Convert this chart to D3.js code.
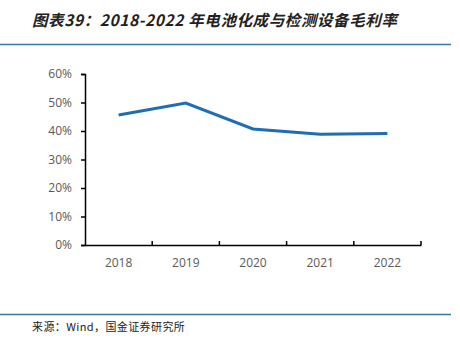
<!DOCTYPE html>
<html>
<head>
<meta charset="utf-8">
<script src="https://cdn.jsdelivr.net/npm/d3@7"></script>
<style>
  body { margin: 0; background: #fff; }
  svg { display: block; }
</style>
</head>
<body>
<div id="chart"></div>
<script>
// data
const years = ["2018", "2019", "2020", "2021", "2022"];
const grossMargin = [0.456, 0.498, 0.407, 0.389, 0.391];
const yTicks = [0, 0.1, 0.2, 0.3, 0.4, 0.5, 0.6];

const svgWidth = 460;
const svgHeight = 349;
const margin = { top: 74, bottom: 104, left: 85, right: 39 };

const svg = d3.select("#chart")
  .append("svg")
  .attr("width", svgWidth)
  .attr("height", svgHeight);

// title
svg.append("text")
  .attr("x", 32)
  .attr("y", 26)
  .style("font-family", "'Noto Sans CJK SC', sans-serif")
  .style("font-size", "15.5px")
  .style("font-weight", "bold")
  .style("font-style", "italic")
  .style("letter-spacing", "0.6px")
  .style("fill", "#222")
  .text("图表39：2018-2022 年电池化成与检测设备毛利率");

// rules above and below the chart
svg.append("line")
  .attr("x1", 0).attr("x2", 451)
  .attr("y1", 44.5).attr("y2", 44.5)
  .attr("stroke", "#3b7a9a").attr("stroke-width", 1.5);
svg.append("line")
  .attr("x1", 0).attr("x2", 451)
  .attr("y1", 314.5).attr("y2", 314.5)
  .attr("stroke", "#3b7a9a").attr("stroke-width", 1.5);

// source note
svg.append("text")
  .attr("x", 32)
  .attr("y", 331)
  .style("font-family", "'Noto Sans CJK SC', sans-serif")
  .style("font-size", "11px")
  .style("letter-spacing", "0.4px")
  .style("fill", "#222")
  .text("来源：Wind，国金证券研究所");

// scales
const XScale = d3.scaleBand(years, [margin.left, svgWidth - margin.right]);
const YScale = d3.scaleLinear([0, 0.6], [svgHeight - margin.bottom, margin.top]);

// y axis
const yAxis = svg.append("g")
  .attr("transform", `translate(${margin.left},0)`)
  .call(d3.axisLeft(YScale).tickValues(yTicks).tickFormat(d3.format(".0%")).tickSize(4).tickSizeOuter(4).tickPadding(9));
yAxis.select(".domain").attr("stroke", "#000").attr("stroke-width", 1.5);
yAxis.selectAll(".tick line").attr("stroke", "#000").attr("stroke-width", 1.5);
yAxis.selectAll("text")
  .style("font-family", "'Open Sans', sans-serif")
  .style("font-size", "12px")
  .style("fill", "#595959");

// x axis, ticks point up at band edges
const xAxis = svg.append("g")
  .attr("transform", `translate(0,${svgHeight - margin.bottom})`)
  .call(d3.axisBottom(XScale).tickSize(0).tickPadding(13));
xAxis.select(".domain").attr("stroke", "#000").attr("stroke-width", 1.5);
xAxis.selectAll("text")
  .style("font-family", "'Open Sans', sans-serif")
  .style("font-size", "12px")
  .style("fill", "#595959");
xAxis.selectAll(".edge")
  .data(years)
  .enter()
  .append("line")
  .attr("x1", d => XScale(d) + XScale.bandwidth())
  .attr("x2", d => XScale(d) + XScale.bandwidth())
  .attr("y1", 0)
  .attr("y2", -4)
  .attr("stroke", "#000")
  .attr("stroke-width", 1.5);

// line
const line = d3.line()
  .x((d, i) => XScale(years[i]) + XScale.bandwidth() / 2)
  .y(d => YScale(d));

svg.append("path")
  .datum(grossMargin)
  .attr("d", line)
  .attr("fill", "none")
  .attr("stroke", "#1f6db5")
  .attr("stroke-width", 3);
</script>
</body>
</html>
